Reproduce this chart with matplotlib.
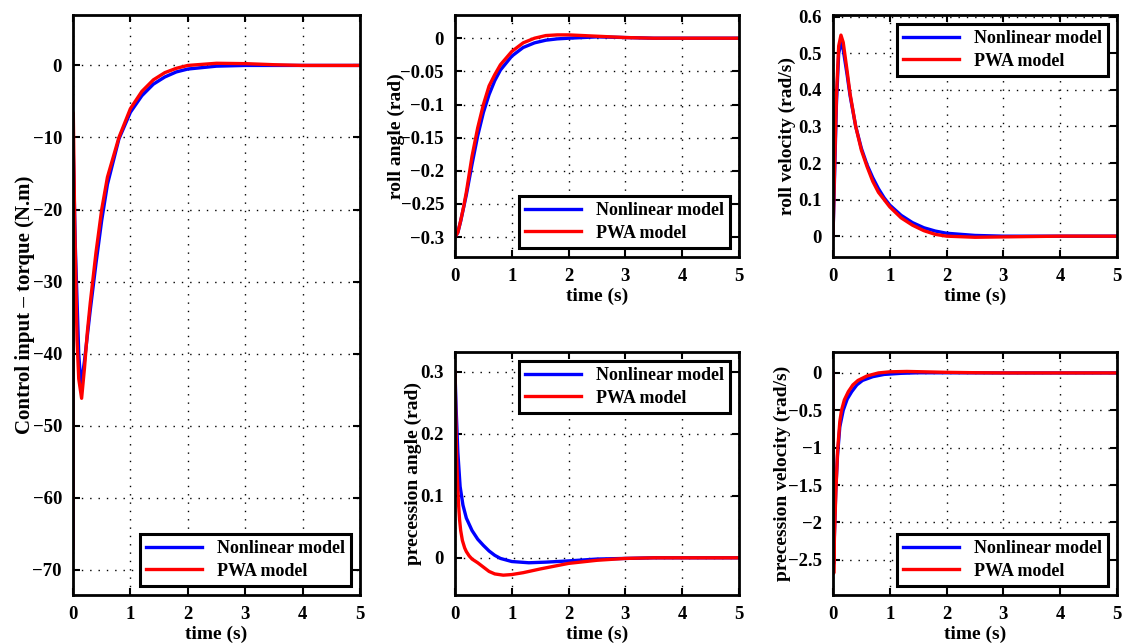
import matplotlib
matplotlib.use("Agg")
import matplotlib.pyplot as plt
import matplotlib.ticker as mticker

plt.rcParams["font.family"] = ["Liberation Serif", "DejaVu Serif"]
plt.rcParams["font.weight"] = "bold"
plt.rcParams["axes.labelweight"] = "bold"
plt.rcParams["axes.unicode_minus"] = True

# control input torque (N.m)
t_u_nl = [0, 0.005, 0.04, 0.1, 0.14, 0.2, 0.3, 0.4, 0.5, 0.6, 0.8, 1.0, 1.2, 1.4, 1.6, 1.8, 2.0, 2.5, 3.0, 5.0]
u_nl = [-67, -12, -25, -40, -44.6, -41, -34, -27.5, -21.5, -16.5, -10.2, -6.5, -4.2, -2.6, -1.6, -0.9, -0.5, -0.1, 0, 0]
t_u_pwa = [0, 0.005, 0.03, 0.07, 0.1, 0.15, 0.2, 0.25, 0.3, 0.4, 0.5, 0.6, 0.8, 1.0, 1.2, 1.4, 1.6, 1.8, 2.0, 2.5, 3.0, 3.5, 4.0, 5.0]
u_pwa = [-67, -6.6, -22, -38, -43.5, -46.2, -42, -37, -33, -26, -20, -15.5, -10, -6, -3.6, -2, -1, -0.4, 0, 0.3, 0.25, 0.1, 0, 0]

# roll angle (rad)
t_ra = [0, 0.05, 0.1, 0.15, 0.2, 0.25, 0.3, 0.4, 0.5, 0.6, 0.7, 0.8, 1.0, 1.2, 1.4, 1.6, 1.8, 2.0, 2.5, 3.0, 3.5, 5.0]
ra_nl = [-0.3, -0.293, -0.276, -0.256, -0.236, -0.213, -0.19, -0.147, -0.112, -0.085, -0.064, -0.048, -0.027, -0.014, -0.007, -0.003, -0.001, 0, 0.002, 0.001, 0, 0]
ra_pwa = [-0.3, -0.293, -0.275, -0.255, -0.232, -0.205, -0.178, -0.135, -0.1, -0.072, -0.055, -0.04, -0.02, -0.007, 0, 0.004, 0.005, 0.005, 0.003, 0.001, 0, 0]

# roll velocity (rad/s)
t_rv = [0, 0.03, 0.06, 0.1, 0.14, 0.18, 0.25, 0.3, 0.4, 0.5, 0.6, 0.7, 0.8, 0.9, 1.0, 1.2, 1.4, 1.6, 1.8, 2.0, 2.5, 3.0, 3.5, 4.0, 5.0]
rv_nl = [0, 0.18, 0.36, 0.5, 0.53, 0.51, 0.44, 0.385, 0.3, 0.24, 0.195, 0.16, 0.13, 0.105, 0.085, 0.057, 0.037, 0.023, 0.014, 0.008, 0.002, 0, 0, 0, 0]
rv_pwa = [0, 0.2, 0.38, 0.52, 0.55, 0.53, 0.45, 0.39, 0.3, 0.235, 0.19, 0.15, 0.12, 0.1, 0.08, 0.05, 0.03, 0.015, 0.005, 0, -0.003, -0.002, -0.001, 0, 0]

# precession angle (rad)
t_pa_nl = [0, 0.02, 0.05, 0.09, 0.14, 0.2, 0.3, 0.4, 0.5, 0.6, 0.7, 0.8, 1.0, 1.3, 1.6, 2.0, 2.5, 3.0, 3.5, 5.0]
pa_nl = [0.3, 0.24, 0.17, 0.115, 0.085, 0.064, 0.044, 0.03, 0.02, 0.011, 0.004, -0.001, -0.006, -0.008, -0.007, -0.005, -0.002, -0.001, 0, 0]
t_pa_pwa = [0, 0.01, 0.02, 0.03, 0.04, 0.06, 0.08, 0.1, 0.13, 0.17, 0.2, 0.25, 0.3, 0.4, 0.5, 0.6, 0.7, 0.85, 1.0, 1.2, 1.5, 2.0, 2.5, 3.0, 3.5, 5.0]
pa_pwa = [0.3, 0.245, 0.2, 0.162, 0.132, 0.09, 0.062, 0.044, 0.028, 0.016, 0.01, 0.003, -0.002, -0.008, -0.015, -0.022, -0.026, -0.028, -0.027, -0.024, -0.018, -0.009, -0.004, -0.001, 0, 0]

# precession velocity (rad/s)
t_pv_nl = [0, 0.012, 0.025, 0.05, 0.08, 0.12, 0.18, 0.25, 0.33, 0.42, 0.52, 0.7, 0.9, 1.2, 1.5, 2.0, 3.0, 5.0]
pv_nl = [0, -2.55, -2.15, -1.55, -1.1, -0.72, -0.5, -0.35, -0.25, -0.16, -0.1, -0.05, -0.02, -0.005, 0.002, 0.002, 0, 0]
t_pv_pwa = [0, 0.012, 0.025, 0.05, 0.08, 0.12, 0.15, 0.2, 0.27, 0.35, 0.44, 0.6, 0.8, 1.0, 1.3, 1.6, 2.0, 2.5, 3.0, 5.0]
pv_pwa = [0, -2.68, -2.2, -1.6, -1.05, -0.65, -0.5, -0.36, -0.25, -0.16, -0.1, -0.04, 0, 0.015, 0.02, 0.015, 0.008, 0.003, 0, 0]

LEGEND = ["Nonlinear model", "PWA model"]
TICK_FS = 13.5
LABEL_FS = 14


def fmt(v, _):
    s = f"{v:g}"
    if s in ("-0", "0"):
        return "0"
    return s.replace("-", "\u2212")


def style(ax, ylim, yticks, ylabel, legend_loc, label_fs=LABEL_FS, ypad=0):
    ax.set_xlim(0, 5)
    ax.set_ylim(*ylim)
    ax.set_xticks(range(6))
    ax.set_yticks(yticks)
    ax.yaxis.set_major_formatter(mticker.FuncFormatter(fmt))
    ax.tick_params(direction="in", top=True, right=True, length=5, width=1.5,
                   labelsize=TICK_FS, pad=8)
    for lbl in ax.get_xticklabels() + ax.get_yticklabels():
        lbl.set_fontweight("bold")
    for sp in ax.spines.values():
        sp.set_linewidth(2.0)
    ax.grid(True, color="k", linestyle=(0, (1, 5)), linewidth=1.0)
    ax.set_xlabel("time (s)", fontsize=LABEL_FS, labelpad=2)
    ax.set_ylabel(ylabel, fontsize=label_fs, labelpad=ypad)
    leg = ax.legend(LEGEND, loc=legend_loc, fontsize=13, fancybox=False,
                    framealpha=1, edgecolor="k", handlelength=3.1,
                    labelspacing=0.3, borderpad=0.35)
    leg.get_frame().set_linewidth(2.2)
    for txt in leg.get_texts():
        txt.set_fontweight("bold")


fig = plt.figure(figsize=(11.22, 6.44), dpi=100)
W, H = 1122, 644


def add_axes(x0, x1, y0, y1):
    return fig.add_axes([x0 / W, 1 - y1 / H, (x1 - x0) / W, (y1 - y0) / H])


lw = 2.4
ax1 = add_axes(73, 360, 15, 595)
ax1.plot(t_u_nl, u_nl, color="b", lw=lw)
ax1.plot(t_u_pwa, u_pwa, color="r", lw=lw)
style(ax1, (-73.5, 7), range(-70, 1, 10), "Control input \u2013 torque (N.m)", "lower right",
      label_fs=15, ypad=-2)

ax2 = add_axes(455, 739, 15, 257)
ax2.plot(t_ra, ra_nl, color="b", lw=lw)
ax2.plot(t_ra, ra_pwa, color="r", lw=lw)
style(ax2, (-0.33, 0.035), [-0.3, -0.25, -0.2, -0.15, -0.1, -0.05, 0], "roll angle (rad)", "lower right",
      ypad=-3)

ax3 = add_axes(833, 1117, 15, 257)
ax3.plot(t_rv, rv_nl, color="b", lw=lw)
ax3.plot(t_rv, rv_pwa, color="r", lw=lw)
style(ax3, (-0.057, 0.605), [0, 0.1, 0.2, 0.3, 0.4, 0.5, 0.6], "roll velocity (rad/s)", "upper right",
      ypad=2)

ax4 = add_axes(455, 739, 352, 595)
ax4.plot(t_pa_nl, pa_nl, color="b", lw=lw)
ax4.plot(t_pa_pwa, pa_pwa, color="r", lw=lw)
style(ax4, (-0.06, 0.332), [0, 0.1, 0.2, 0.3], "precession angle (rad)", "upper right", ypad=-1)

ax5 = add_axes(833, 1117, 352, 595)
ax5.plot(t_pv_nl, pv_nl, color="b", lw=lw)
ax5.plot(t_pv_pwa, pv_pwa, color="r", lw=lw)
style(ax5, (-2.97, 0.28), [-2.5, -2, -1.5, -1, -0.5, 0], "precession velocity (rad/s)", "lower right",
      ypad=-2)

fig.savefig("out.png", dpi=100)
